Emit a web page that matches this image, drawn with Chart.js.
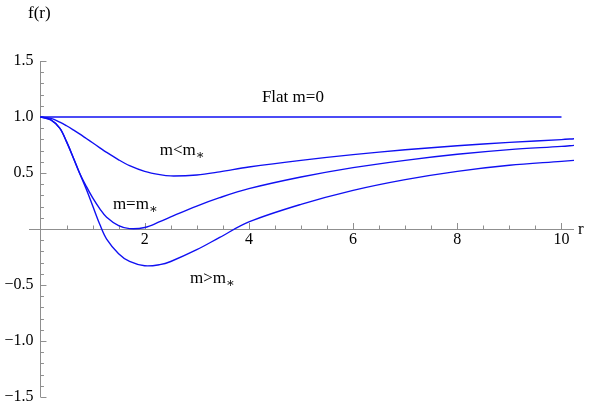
<!DOCTYPE html>
<html>
<head>
<meta charset="utf-8">
<script src="https://cdn.jsdelivr.net/npm/chart.js@4"></script>
<style>
  html, body { margin: 0; padding: 0; background: #fff; }
  #wrap { width: 599px; height: 407px; }
</style>
</head>
<body>
<div id="wrap"><canvas id="plot" width="599" height="407"></canvas></div>
<script>
// sampled radii shared by the three curved profiles
const rGrid = [0, 0.2, 0.37, 0.5, 0.63, 0.75, 0.88, 1.0, 1.14, 1.27, 1.5, 1.71,
  2.0, 2.29, 2.5, 3.0, 3.44, 4, 5, 6, 7, 8, 9, 10, 10.24];

// m < m*
const fBelow = [1.0, 0.988, 0.955, 0.922, 0.885, 0.849, 0.808, 0.770, 0.725, 0.684, 0.618, 0.566,
  0.515, 0.485, 0.474, 0.482, 0.510, 0.553, 0.613, 0.664, 0.707, 0.743, 0.773, 0.798, 0.806];
// m = m*
const fCrit = [1.0, 0.975, 0.90, 0.78, 0.637, 0.50, 0.38, 0.28, 0.18, 0.105, 0.03, 0.003,
  0.013, 0.065, 0.108, 0.205, 0.28, 0.36, 0.464, 0.548, 0.613, 0.667, 0.709, 0.738, 0.747];
// m > m*
const fAbove = [1.0, 0.975, 0.90, 0.78, 0.637, 0.50, 0.355, 0.21, 0.04, -0.09, -0.22, -0.29,
  -0.328, -0.318, -0.29, -0.185, -0.075, 0.063, 0.22, 0.345, 0.441, 0.515, 0.569, 0.604, 0.613];

// flat space
const flatR = [0, 10];
const flatF = [1, 1];

const xTicks = [2, 4, 6, 8, 10];
const yTicks = [-1.5, -1.0, -0.5, 0.5, 1.0, 1.5];

const BLUE = '#1010f2';
const AXIS = '#8f8f8f';
const SERIF = '"Liberation Serif", "DejaVu Serif", serif';

function pts(xs, ys) {
  return xs.map((x, i) => ({ x, y: ys[i] }));
}

function fmt(v) {
  const s = Math.abs(v).toFixed(1);
  return (v < 0 ? '\u2212' : '') + s;
}

// labels: main text + subscript, anchored in data coords (left, baseline)
const notes = [
  { r: 4.25, f: 1.13, text: 'Flat m=0', sub: '' },
  { r: 2.29, f: 0.658, text: 'm<m', sub: '\u2217' },
  { r: 1.39, f: 0.176, text: 'm=m', sub: '\u2217' },
  { r: 2.87, f: -0.485, text: 'm>m', sub: '\u2217' }
];

const axesPlugin = {
  id: 'axesAtOrigin',
  beforeDatasetsDraw(chart) {
    const { ctx, scales: { x, y } } = chart;
    const x0 = x.getPixelForValue(0);
    const y0 = y.getPixelForValue(0);
    ctx.save();
    ctx.strokeStyle = AXIS;
    ctx.lineWidth = 1;

    // axis lines
    ctx.beginPath();
    ctx.moveTo(x.left, Math.round(y0) + 0.5);
    ctx.lineTo(x.right, Math.round(y0) + 0.5);
    ctx.moveTo(Math.round(x0) + 0.5, y.getPixelForValue(1.5));
    ctx.lineTo(Math.round(x0) + 0.5, y.getPixelForValue(-1.5));
    ctx.stroke();

    // x ticks every 0.5, majors on the even numbers
    ctx.beginPath();
    for (let k = 1; k <= 20; k++) {
      const v = k * 0.5;
      const px = Math.round(x.getPixelForValue(v)) + 0.5;
      const len = (v % 2 === 0) ? 6 : 3.5;
      ctx.moveTo(px, y0);
      ctx.lineTo(px, y0 - len);
    }
    // y ticks every 0.1, majors every 0.5
    for (let k = -15; k <= 15; k++) {
      if (k === 0) continue;
      const py = Math.round(y.getPixelForValue(k / 10)) + 0.5;
      const len = (k % 5 === 0) ? 6 : 3.5;
      ctx.moveTo(x0, py);
      ctx.lineTo(x0 + len, py);
    }
    ctx.stroke();

    // tick labels
    ctx.fillStyle = '#000';
    ctx.font = '16px ' + SERIF;
    ctx.textAlign = 'center';
    ctx.textBaseline = 'top';
    xTicks.forEach(v => ctx.fillText(String(v), x.getPixelForValue(v), y0 + 3));
    ctx.textAlign = 'right';
    ctx.textBaseline = 'middle';
    yTicks.forEach(v => ctx.fillText(fmt(v), x0 - 7, y.getPixelForValue(v)));

    // axis names
    ctx.font = '17px ' + SERIF;
    ctx.textAlign = 'left';
    ctx.fillText('r', 578, y0 + 1);
    ctx.fillText('f(r)', 28, 14);
    ctx.restore();
  },
  afterDatasetsDraw(chart) {
    const { ctx, scales: { x, y } } = chart;
    ctx.save();
    ctx.fillStyle = '#000';
    ctx.textBaseline = 'alphabetic';
    ctx.textAlign = 'left';
    notes.forEach(n => {
      const px = x.getPixelForValue(n.r);
      const py = y.getPixelForValue(n.f);
      ctx.font = '17px ' + SERIF;
      ctx.fillText(n.text, px, py);
      if (n.sub) {
        const w = ctx.measureText(n.text).width;
        ctx.font = '13px ' + SERIF;
        ctx.fillText(n.sub, px + w, py + 4);
      }
    });
    ctx.restore();
  }
};

const lineStyle = {
  borderColor: BLUE,
  borderWidth: 1.4,
  pointRadius: 0,
  fill: false,
  tension: 0.35
};

new Chart(document.getElementById('plot'), {
  type: 'line',
  data: {
    datasets: [
      { label: 'Flat m=0', data: pts(flatR, flatF), ...lineStyle },
      { label: 'm<m*', data: pts(rGrid, fBelow), ...lineStyle },
      { label: 'm=m*', data: pts(rGrid, fCrit), ...lineStyle },
      { label: 'm>m*', data: pts(rGrid, fAbove), ...lineStyle }
    ]
  },
  options: {
    responsive: false,
    animation: false,
    layout: { padding: { left: 29, right: 25, top: 61, bottom: 10 } },
    scales: {
      x: { type: 'linear', min: -0.22, max: 10.24, display: false },
      y: { type: 'linear', min: -1.5, max: 1.5, display: false }
    },
    plugins: {
      legend: { display: false },
      tooltip: { enabled: false }
    }
  },
  plugins: [axesPlugin]
});
</script>
</body>
</html>
